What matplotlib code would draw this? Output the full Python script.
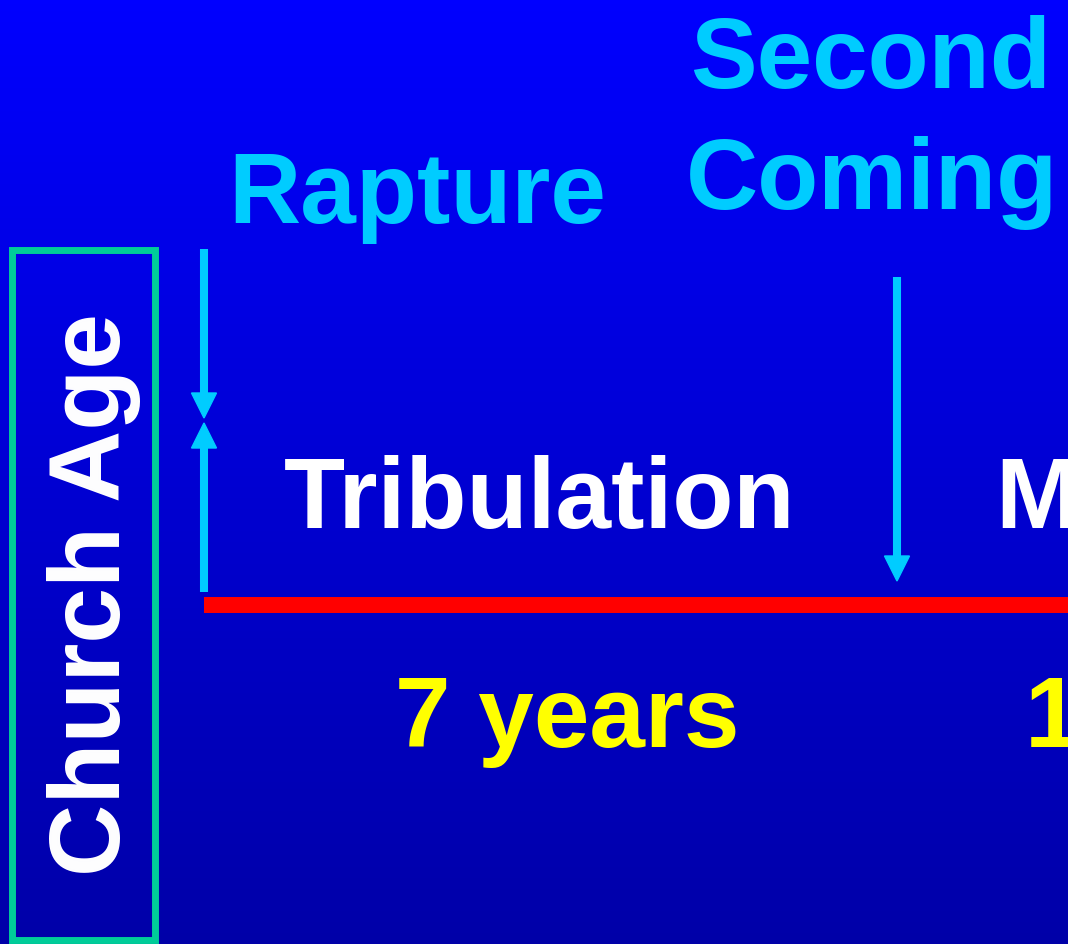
import numpy as np
import matplotlib.pyplot as plt
from matplotlib.patches import Polygon, Rectangle

# slide texts
side_label = "Church Age"
event_labels = ["Rapture", "Second\nComing"]
period_labels = ["Tribulation", "Millennium"]
duration_labels = ["7 years", "1000 years"]

W, H = 1068, 944
CYAN = '#00CCFF'
FONT = 'Liberation Sans'

fig = plt.figure(figsize=(W / 100, H / 100), dpi=100)
ax = fig.add_axes([0, 0, 1, 1])
ax.set_xlim(0, W)
ax.set_ylim(H, 0)
ax.axis('off')

# vertical blue gradient background
grad = np.linspace(0, 1, 256)[:, None]
top = np.array([0, 0, 255]) / 255
bot = np.array([0, 0, 168]) / 255
img = top[None, None, :] * (1 - grad[:, :, None]) + bot[None, None, :] * grad[:, :, None]
ax.imshow(img, extent=[0, W, H, 0], aspect='auto', zorder=0)

# church age box
ax.add_patch(Rectangle((11.5, 250), 143, 690, fill=False, ec='#00CC99', lw=5.0, zorder=2))
ax.text(94, 595, side_label, rotation=90, ha='center', va='center', color='white',
        fontsize=72, fontweight='bold', family=FONT, zorder=3)


def arrow_down(x, y0, tip, up=False):
    # shaft + triangular head, in pixel coords
    hl, hw = 25, 12.5
    if up:
        ax.plot([x, x], [tip + hl - 1, y0], color=CYAN, lw=5.8, solid_capstyle='butt', zorder=3)
        ax.add_patch(Polygon([(x - hw, tip + hl), (x + hw, tip + hl), (x, tip)], color=CYAN, zorder=3))
    else:
        ax.plot([x, x], [y0, tip - hl + 1], color=CYAN, lw=5.8, solid_capstyle='butt', zorder=3)
        ax.add_patch(Polygon([(x - hw, tip - hl), (x + hw, tip - hl), (x, tip)], color=CYAN, zorder=3))


arrow_down(204, 249, 418)
arrow_down(204, 592, 423, up=True)
arrow_down(897, 277, 581)

# time line
ax.plot([204, W + 5], [605, 605], color='#FF0000', lw=11.5, solid_capstyle='butt', zorder=2)

# event labels
ax.text(417, 223, event_labels[0], ha='center', va='baseline', color=CYAN,
        fontsize=72, fontweight='bold', family=FONT, zorder=3)
sec, com = event_labels[1].split('\n')
ax.text(871, 88, sec, ha='center', va='baseline', color=CYAN,
        fontsize=72, fontweight='bold', family=FONT, zorder=3)
ax.text(872, 209, com, ha='center', va='baseline', color=CYAN,
        fontsize=72, fontweight='bold', family=FONT, zorder=3)

# periods
ax.text(540, 528, period_labels[0], ha='center', va='baseline', color='white',
        fontsize=72, fontweight='bold', family=FONT, zorder=3)
ax.text(995, 528, period_labels[1], ha='left', va='baseline', color='white',
        fontsize=72, fontweight='bold', family=FONT, zorder=3, clip_on=True)

# durations
ax.text(567, 747, duration_labels[0], ha='center', va='baseline', color='#FFFF00',
        fontsize=72, fontweight='bold', family=FONT, zorder=3)
ax.text(1025, 747, duration_labels[1], ha='left', va='baseline', color='#FFFF00',
        fontsize=72, fontweight='bold', family=FONT, zorder=3, clip_on=True)

fig.savefig('out.png', dpi=100)
